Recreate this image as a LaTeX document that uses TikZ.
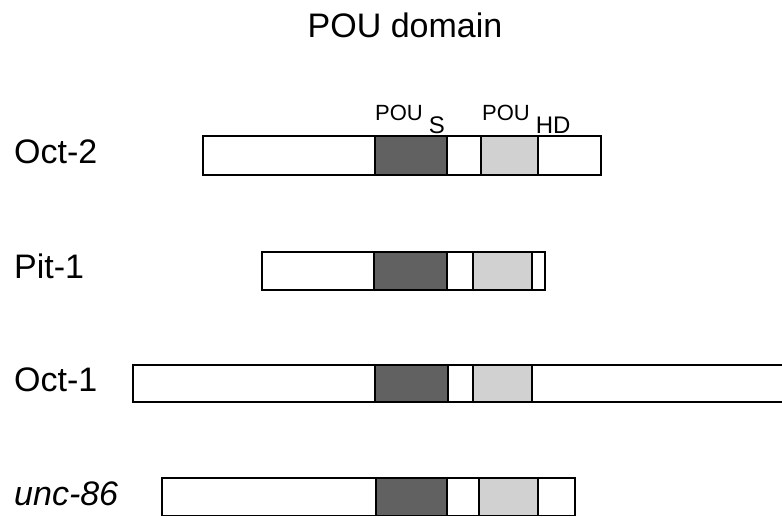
\documentclass[tikz,border=0pt]{standalone}
\usepackage{fontspec}
\setmainfont{Liberation Sans}
\begin{document}
\begin{tikzpicture}[x=1pt,y=-1pt,
  seg/.style={draw=black,line width=1.3pt},
  dark/.style={seg,fill=black!62},
  light/.style={seg,fill=black!18},
  plain/.style={seg,fill=white},
  lbl/.style={anchor=base west,font=\fontsize{34}{38}\selectfont,inner sep=0pt},
  dom/.style={anchor=base west,font=\fontsize{22}{24}\selectfont,inner sep=0pt}]
\useasboundingbox (0,0) rectangle (782,517);
\node[anchor=base,font=\fontsize{34}{38}\selectfont,inner sep=0pt] (title) at (405,37) {POU domain};
% domain labels
\node[dom] (pous) at (375,120) {POU\hspace{6pt}\raisebox{-13pt}{\fontsize{24}{26}\selectfont S}};
\node[dom] (pouhd) at (482,120) {POU\hspace{6pt}\raisebox{-13pt}{\fontsize{24}{26}\selectfont HD}};
% Oct-2
\node[lbl] (oct2) at (14,163) {Oct-2};
\draw[plain] (203,136) rectangle (601,175);
\draw[dark] (375,136) rectangle (447,175);
\draw[light] (481,136) rectangle (538,175);
% Pit-1
\node[lbl] (pit1) at (14,278) {Pit-1};
\draw[plain] (262,252) rectangle (545,290);
\draw[dark] (374,252) rectangle (447,290);
\draw[light] (473,252) rectangle (532,290);
% Oct-1
\node[lbl] (oct1) at (14,391) {Oct-1};
\draw[seg,fill=white] (790,365) -- (133,365) -- (133,402) -- (790,402);
\draw[dark] (375,365) rectangle (448,402);
\draw[light] (473,365) rectangle (532,402);
% unc-86
\node[lbl] (unc) at (14,505) {\itshape unc-86};
\draw[plain] (162,478) rectangle (575,515.5);
\draw[dark] (376,478) rectangle (447,515.5);
\draw[light] (479,478) rectangle (538,515.5);
\end{tikzpicture}
\end{document}
